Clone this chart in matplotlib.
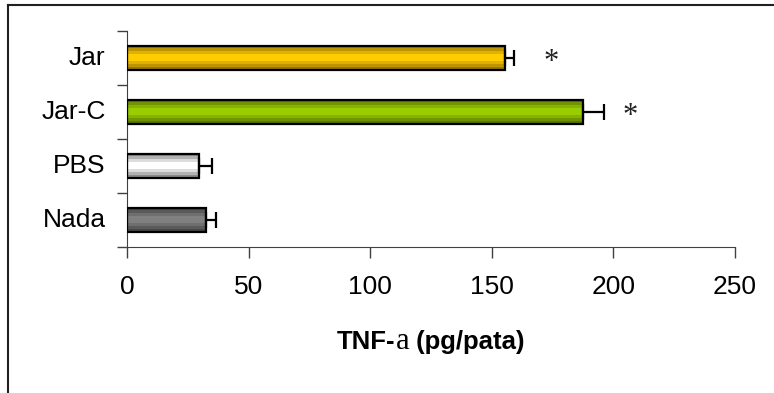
import matplotlib
matplotlib.use("Agg")
import matplotlib.pyplot as plt
from matplotlib.lines import Line2D
from matplotlib.colors import LinearSegmentedColormap
import numpy as np

# Datos: TNF-a por grupo (de arriba hacia abajo)
grupos = ["Jar", "Jar-C", "PBS", "Nada"]
valores = [155.5, 187.5, 29.5, 32.5]
errores = [3.5, 8.5, 5.5, 4.0]
asteriscos = ["*", "*", "", ""]
pos_asterisco = [174.5, 207.0, 0, 0]

# colores de cada barra: borde oscuro -> centro claro
oscuro = ["#9a7800", "#5a7800", "#8a8a8a", "#474747"]
claro = ["#ffcc00", "#9acd00", "#ffffff", "#808080"]

fig = plt.figure(figsize=(7.74, 3.93), dpi=100)
ax = fig.add_axes([127 / 774, 1 - 247 / 393, (735 - 127) / 774, (247 - 31) / 393])

n = len(grupos)
ys = np.arange(n)[::-1]
alto = 0.45
franjas = np.array([0.0, 0.35, 0.7, 1.0, 1.0, 0.7, 0.35, 0.0]).reshape(-1, 1)

for y, v, e, c1, c2 in zip(ys, valores, errores, oscuro, claro):
    barra = ax.barh(y, v, height=alto, color="none", edgecolor="black",
                    linewidth=1.6, zorder=3)[0]
    cmap = LinearSegmentedColormap.from_list("b", [c1, c2])
    img = ax.imshow(franjas, cmap=cmap, aspect="auto", interpolation="nearest",
                    extent=(0, v, y - alto / 2, y + alto / 2), zorder=2, vmin=0, vmax=1)
    img.set_clip_path(barra)
    ax.errorbar(v, y, xerr=[[0], [e]], fmt="none", ecolor="black",
                elinewidth=1.6, capsize=5.5, capthick=1.6, zorder=4)

for y, s, x in zip(ys, asteriscos, pos_asterisco):
    if s:
        ax.text(x, y - 0.08, s, ha="center", va="center", fontsize=22,
                family="Liberation Serif", color="#222222")

ax.set_xlim(0, 250)
ax.set_ylim(-0.5, n - 0.5)
ax.set_xticks([0, 50, 100, 150, 200, 250])
ax.set_yticks(np.arange(-0.5, n, 1.0))
ax.set_yticklabels([])
for y, g in zip(ys, grupos):
    ax.text(-0.035, y, g, transform=ax.get_yaxis_transform(), ha="right", va="center",
            fontsize=19, family="Liberation Sans")

for lbl in ax.get_xticklabels():
    lbl.set_fontsize(19)
    lbl.set_family("Liberation Sans")
ax.tick_params(axis="x", length=8, width=1, color="#404040", pad=12)
ax.tick_params(axis="y", length=7, width=1, color="#404040")
ax.spines["top"].set_visible(False)
ax.spines["right"].set_visible(False)
ax.spines["left"].set_color("#404040")
ax.spines["bottom"].set_color("#404040")

# titulo del eje x: "TNF-" + a (fuente serif) + "(pg/pata)"
fig.canvas.draw()
r = fig.canvas.get_renderer()
partes = [("TNF-", "Liberation Sans", "bold", 18.5),
          ("a", "Liberation Serif", "normal", 22),
          (" (pg/pata)", "Liberation Sans", "bold", 18.5)]
textos = []
for s, fam, peso, tam in partes:
    t = fig.text(0, 0, s, family=fam, weight=peso, fontsize=tam, va="baseline")
    textos.append(t)
anchos = [t.get_window_extent(r).width for t in textos]
cx = (127 + 735) / 2
x0 = cx - sum(anchos) / 2
base = 393 - 349
for t, w in zip(textos, anchos):
    t.set_position((x0 / 774, base / 393))
    x0 += w

# marco exterior (arriba e izquierda)
fig.add_artist(Line2D([8 / 774, 1], [1 - 5 / 393] * 2, color="#202020", lw=1.5))
fig.add_artist(Line2D([8 / 774] * 2, [0, 1 - 5 / 393], color="#202020", lw=1.5))

fig.savefig("out.png", dpi=100)
